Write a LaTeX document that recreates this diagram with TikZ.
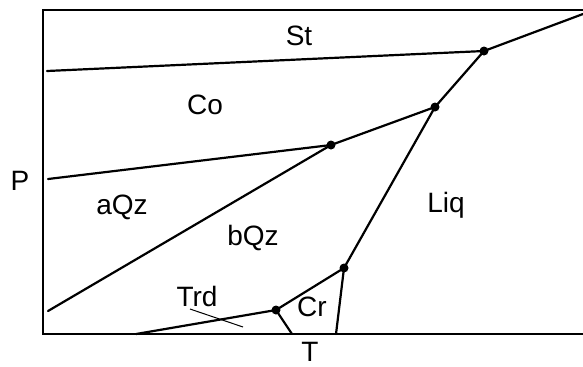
\documentclass[tikz,border=0pt]{standalone}
\usepackage{fontspec}
\setmainfont{Liberation Sans}
\usetikzlibrary{positioning}

\begin{document}
\begin{tikzpicture}[x=0.5pt, y=-0.5pt,
    phase/.style={line width=1.1pt, line cap=round},
    axis/.style={line width=1.2pt},
    tp/.style={circle, fill=black, inner sep=0pt, minimum size=4.5pt},
    lab/.style={font=\fontsize{14}{16}\selectfont, inner sep=0pt}]
  \useasboundingbox (0,0) rectangle (583,366);

  % frame
  \coordinate (o) at (43,334);
  \coordinate (tl) at (43,10);
  \coordinate (tr) at (583,10);
  \coordinate (br) at (583,334);
  \draw[axis] (tr) -- (tl) -- (o) -- (br);

  % invariant points
  \coordinate (p1) at (484,51);
  \coordinate (p2) at (435,107);
  \coordinate (p3) at (331,145);
  \coordinate (p4) at (344,268);
  \coordinate (p5) at (276,310);

  % ends of the boundaries
  \coordinate (stco) at (47,71);
  \coordinate (coaqz) at (48,179);
  \coordinate (aqzbqz) at (48,311);
  \coordinate (stliq) at (583,14);
  \coordinate (trdT) at (136,334);
  \coordinate (crtrd) at (292,334);
  \coordinate (crliq) at (336,334);

  \draw[phase] (stco) -- (p1) -- (stliq);
  \draw[phase] (coaqz) -- (p3) -- (p2) -- (p1);
  \draw[phase] (aqzbqz) -- (p3);
  \draw[phase] (p2) -- (p4) -- (p5) -- (trdT);
  \draw[phase] (p4) -- (crliq);
  \draw[phase] (p5) -- (crtrd);

  \foreach \p in {p1,p2,p3,p4,p5}
    \node[tp] at (\p) {};

  % labels
  \node[lab] (st) at (299,36) {St};
  \node[lab] (co) at (205,105) {Co};
  \node[lab] (aqz) at (122,207) {aQz};
  \node[lab] (bqz) at (253,238) {bQz};
  \node[lab] (liq) at (446,205) {Liq};
  \node[lab] (cr) at (312,307) {Cr};
  \node[lab] (trd) at (197,296) {Trd};
  \node[lab] (P) at (20,181) {P};
  \node[lab] (T) at (310,352) {T};

  \coordinate (trdA) at (190,309);
  \coordinate (trdB) at (243,327);
  \draw[line width=0.5pt] (trdA) -- (trdB);
\end{tikzpicture}
\end{document}
